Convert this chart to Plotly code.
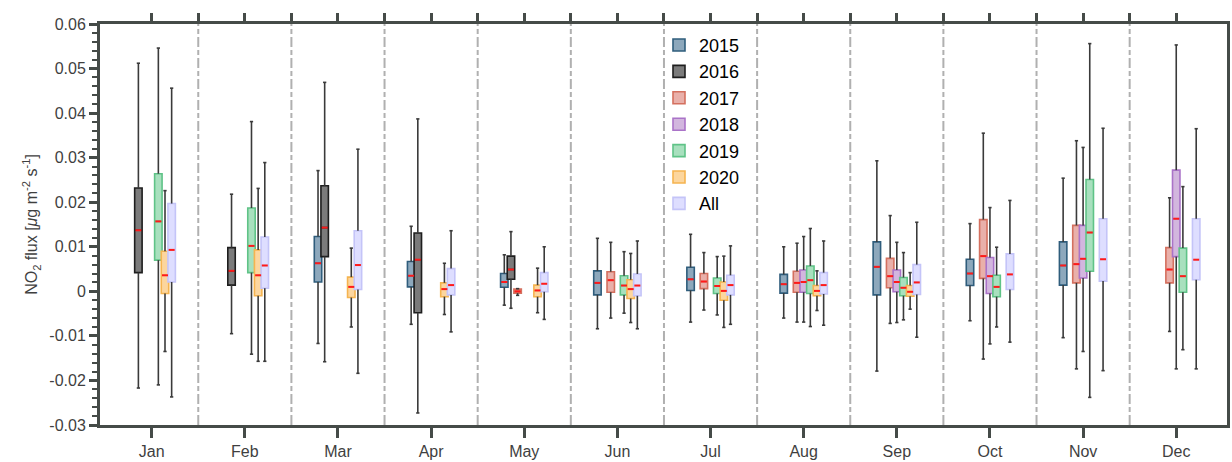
import plotly.graph_objects as go

months = ["Jan", "Feb", "Mar", "Apr", "May", "Jun", "Jul", "Aug", "Sep", "Oct", "Nov", "Dec"]
series_names = ["2015", "2016", "2017", "2018", "2019", "2020", "All"]

# per month: (lower whisker, q1, median, q3, upper whisker); None = no data
stats_2015 = [None, None,
              (-0.0117, 0.0021, 0.0063, 0.0123, 0.0271),
              (-0.0074, 0.0010, 0.0035, 0.0067, 0.0146),
              (-0.0031, 0.0009, 0.0021, 0.0040, 0.0082),
              (-0.0084, -0.0008, 0.0019, 0.0046, 0.0119),
              (-0.0069, 0.0002, 0.0027, 0.0054, 0.0128),
              (-0.0060, -0.0004, 0.0016, 0.0038, 0.0100),
              (-0.0179, -0.0008, 0.0055, 0.0111, 0.0293),
              (-0.0066, 0.0013, 0.0040, 0.0072, 0.0152),
              (-0.0104, 0.0014, 0.0058, 0.0111, 0.0254),
              None]
stats_2016 = [(-0.0217, 0.0042, 0.0137, 0.0232, 0.0512),
              (-0.0095, 0.0014, 0.0046, 0.0098, 0.0218),
              (-0.0158, 0.0078, 0.0143, 0.0237, 0.0469),
              (-0.0273, -0.0048, 0.0071, 0.0131, 0.0387),
              (-0.0038, 0.0027, 0.0049, 0.0079, 0.0134),
              None, None, None, None, None, None, None]
stats_2017 = [None, None, None, None,
              (-0.0009, -0.0004, 0.0000, 0.0005, 0.0006),
              (-0.0060, -0.0002, 0.0025, 0.0044, 0.0110),
              (-0.0042, 0.0006, 0.0022, 0.0040, 0.0087),
              (-0.0069, -0.0002, 0.0019, 0.0045, 0.0108),
              (-0.0072, 0.0008, 0.0034, 0.0074, 0.0170),
              (-0.0152, 0.0029, 0.0079, 0.0161, 0.0355),
              (-0.0174, 0.0019, 0.0061, 0.0148, 0.0338),
              (-0.0090, 0.0019, 0.0049, 0.0098, 0.0210)]
stats_2018 = [None, None, None, None, None, None, None,
              (-0.0069, -0.0002, 0.0021, 0.0048, 0.0123),
              (-0.0070, -0.0001, 0.0021, 0.0048, 0.0110),
              (-0.0118, -0.0005, 0.0034, 0.0076, 0.0188),
              (-0.0135, 0.0030, 0.0073, 0.0148, 0.0323),
              (-0.0174, 0.0078, 0.0163, 0.0272, 0.0553)]
stats_2019 = [(-0.0210, 0.0070, 0.0157, 0.0264, 0.0546),
              (-0.0141, 0.0042, 0.0102, 0.0187, 0.0381),
              None, None, None,
              (-0.0049, -0.0008, 0.0013, 0.0035, 0.0089),
              (-0.0053, -0.0005, 0.0012, 0.0030, 0.0078),
              (-0.0079, -0.0005, 0.0025, 0.0057, 0.0141),
              (-0.0064, -0.0010, 0.0008, 0.0031, 0.0087),
              (-0.0080, -0.0012, 0.0010, 0.0036, 0.0099),
              (-0.0238, 0.0045, 0.0132, 0.0251, 0.0556),
              (-0.0131, -0.0002, 0.0034, 0.0097, 0.0235)]
stats_2020 = [(-0.0135, -0.0005, 0.0036, 0.0090, 0.0226),
              (-0.0157, -0.0010, 0.0036, 0.0093, 0.0231),
              (-0.0080, -0.0014, 0.0010, 0.0032, 0.0097),
              (-0.0052, -0.0012, 0.0005, 0.0019, 0.0063),
              (-0.0048, -0.0012, 0.0002, 0.0014, 0.0052),
              (-0.0070, -0.0016, 0.0005, 0.0026, 0.0085),
              (-0.0081, -0.0020, 0.0001, 0.0021, 0.0079),
              (-0.0043, -0.0010, 0.0001, 0.0013, 0.0046),
              (-0.0040, -0.0011, -0.0001, 0.0013, 0.0042),
              None, None, None]
stats_all = [(-0.0237, 0.0021, 0.0093, 0.0197, 0.0456),
             (-0.0157, 0.0007, 0.0058, 0.0122, 0.0289),
             (-0.0184, 0.0004, 0.0059, 0.0136, 0.0319),
             (-0.0091, -0.0008, 0.0014, 0.0051, 0.0136),
             (-0.0063, -0.0001, 0.0017, 0.0042, 0.0100),
             (-0.0084, -0.0010, 0.0013, 0.0039, 0.0113),
             (-0.0074, -0.0008, 0.0014, 0.0036, 0.0102),
             (-0.0076, -0.0006, 0.0014, 0.0042, 0.0113),
             (-0.0103, -0.0007, 0.0020, 0.0060, 0.0155),
             (-0.0114, 0.0004, 0.0038, 0.0084, 0.0204),
             (-0.0178, 0.0023, 0.0072, 0.0163, 0.0366),
             (-0.0174, 0.0026, 0.0071, 0.0163, 0.0365)]

y_tick_vals = [-0.03, -0.02, -0.01, 0, 0.01, 0.02, 0.03, 0.04, 0.05, 0.06]
y_tick_text = ["-0.03", "-0.02", "-0.01", "0", "0.01", "0.02", "0.03", "0.04", "0.05", "0.06"]

edge_colors = ["#2f5d7c", "#1e1e1e", "#d4705f", "#aa73c8", "#5fc387", "#f5b450", "#c4c4f8"]
fill_colors = ["#8da8bc", "#7b7b7b", "#e9b0aa", "#d2b6de", "#a8e0be", "#fcd69e", "#dedeff"]

all_stats = [stats_2015, stats_2016, stats_2017, stats_2018, stats_2019, stats_2020, stats_all]

SLOT = 1 / 14
BOX_W = 0.08
CAP_W = 0.035
AXIS_COL = "#454b48"
FONT = "Liberation Sans, Arial, sans-serif"

fig = go.Figure()

# boxes
for i, (name, st) in enumerate(zip(series_names, all_stats)):
    xs, q1s, meds, q3s = [], [], [], []
    for m, s in enumerate(st):
        if s is None:
            continue
        lo, q1, med, q3, hi = s
        xs.append(m + 1 + (i - 3) * SLOT)
        q1s.append(q1); meds.append(med); q3s.append(q3)
    fig.add_trace(go.Box(
        name=name, x=xs, q1=q1s, median=meds, q3=q3s,
        lowerfence=q1s, upperfence=q3s,
        width=BOX_W, whiskerwidth=0,
        fillcolor=fill_colors[i], line=dict(color=edge_colors[i], width=1.6),
        showlegend=True, legendgroup=name, hoverinfo="skip",
    ))

# whiskers and medians
wx, wy = [], []
mx, my = [], []
for i, st in enumerate(all_stats):
    for m, s in enumerate(st):
        if s is None:
            continue
        lo, q1, med, q3, hi = s
        xc = m + 1 + (i - 3) * SLOT
        wx += [xc, xc, None, xc, xc, None,
               xc - CAP_W / 2, xc + CAP_W / 2, None, xc - CAP_W / 2, xc + CAP_W / 2, None]
        wy += [q3, hi, None, lo, q1, None, hi, hi, None, lo, lo, None]
        mx += [xc - BOX_W / 2 + 0.008, xc + BOX_W / 2 - 0.008, None]
        my += [med, med, None]

fig.add_trace(go.Scatter(x=wx, y=wy, mode="lines", line=dict(color="#3a3a3a", width=1.6),
                         showlegend=False, hoverinfo="skip"))
fig.add_trace(go.Scatter(x=mx, y=my, mode="lines", line=dict(color="#ff1a1a", width=2),
                         showlegend=False, hoverinfo="skip"))
# dummy trace for top tick axis
fig.add_trace(go.Scatter(x=[None], y=[None], xaxis="x2", showlegend=False, hoverinfo="skip"))

# month dividers
for k in range(1, len(months)):
    fig.add_shape(type="line", xref="x", yref="paper", x0=k + 0.5, x1=k + 0.5, y0=0, y1=1,
                  line=dict(color="#b0b0b0", width=2, dash="10px,3px,5px,3px"), layer="below")

xr = [0.445, 12.545]
top_ticks = sorted([k + 1 for k in range(len(months))] + [k + 0.5 for k in range(1, len(months))])

fig.update_layout(
    width=1232, height=462,
    margin=dict(l=100, r=2, t=24, b=36),
    plot_bgcolor="white", paper_bgcolor="white",
    boxmode="overlay",
    font=dict(family=FONT, size=16, color="#3f3f3f"),
    xaxis=dict(range=xr, tickmode="array", tickvals=list(range(1, 13)), ticktext=months,
               ticks="outside", ticklen=10, tickwidth=3, tickcolor=AXIS_COL,
               showline=True, linecolor=AXIS_COL, linewidth=3, mirror=True,
               showgrid=False, zeroline=False, tickfont=dict(size=16)),
    xaxis2=dict(range=xr, overlaying="x", side="top", anchor="y", tickmode="array",
                tickvals=top_ticks, ticks="outside", ticklen=10, tickwidth=3, tickcolor=AXIS_COL,
                showticklabels=False, showline=False, showgrid=False, zeroline=False),
    yaxis=dict(range=[-0.03, 0.06], tickmode="array", tickvals=y_tick_vals, ticktext=y_tick_text,
               ticks="outside", ticklen=8, tickwidth=3, tickcolor=AXIS_COL,
               minor=dict(ticks="outside", dtick=0.002, ticklen=5, tickwidth=2, tickcolor=AXIS_COL,
                          showgrid=False),
               showline=True, linecolor=AXIS_COL, linewidth=3, mirror=True,
               showgrid=False, zeroline=False, tickfont=dict(size=16),
               title=dict(text="NO<sub>2</sub> flux [<i>μ</i>g m<sup>-2</sup> s<sup>-1</sup>]",
                          font=dict(size=16, color="#3f3f3f"), standoff=8)),
    legend=dict(x=0.496, y=0.993, xanchor="left", yanchor="top", bgcolor="rgba(0,0,0,0)",
                font=dict(size=18, color="black", family=FONT), traceorder="normal",
                tracegroupgap=0, borderwidth=0),
)

fig.write_html("out.html")
